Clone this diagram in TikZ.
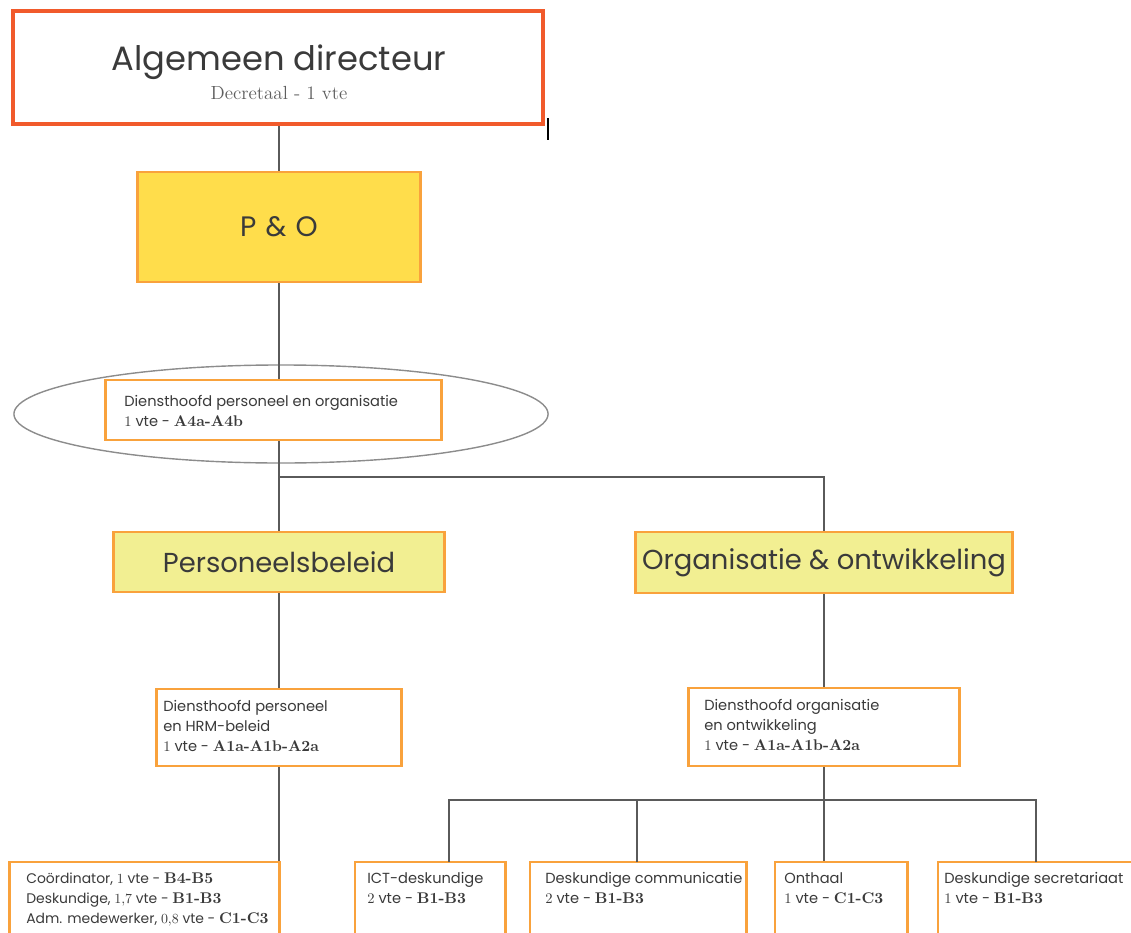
\documentclass[tikz,border=0pt]{standalone}
\usepackage{fontspec}
\setmainfont{Poppins}
\newfontfamily\gradefont{Latin Modern Roman}
\usetikzlibrary{positioning}

\definecolor{dirred}{HTML}{F15A2B}
\definecolor{boxorange}{HTML}{F9A23C}
\definecolor{poyellow}{HTML}{FFDD4B}
\definecolor{lightyellow}{HTML}{F2EF92}
\definecolor{linegray}{HTML}{5A5A5A}
\definecolor{ringgray}{HTML}{8C8C8C}
\definecolor{txtgray}{HTML}{3A3A3A}
\definecolor{subgray}{HTML}{5E5E5E}

\newcommand\nr[1]{{\gradefont #1}}
\newcommand\grade[1]{{\gradefont\bfseries\fontsize{11}{14.2}\selectfont #1}}

\tikzset{
  orgbox/.style={draw=boxorange, line width=2.1pt, fill=white, inner sep=0pt},
  dirbox/.style={orgbox, draw=dirred, line width=2.8pt},
  pobox/.style={orgbox, fill=poyellow, text=txtgray, font=\fontsize{20}{22}\selectfont},
  unitbox/.style={orgbox, fill=lightyellow, text=txtgray, font=\fontsize{19.5}{22}\selectfont},
  smalltxt/.style={anchor=north west, align=left, inner sep=0pt, text=txtgray,
    font=\fontsize{10.4}{14.2}\selectfont},
  connector/.style={draw=linegray, line width=1.6pt},
  ring/.style={draw=ringgray, line width=1pt}
}

\begin{document}
\begin{tikzpicture}[x=0.025cm, y=-0.025cm]
    \useasboundingbox (0,0) rectangle (1131,933);
    \clip (0,0) rectangle (1131,933);
    % top
    \node[dirbox, minimum width=13.25cm, minimum height=2.825cm] (dir) at (278,67.5) {};
    \node[text=txtgray, font=\fontsize{24}{26}\selectfont, inner sep=0pt] (dirName) at (279,62) {Algemeen directeur};
    \node[text=subgray, font=\gradefont\fontsize{13.5}{15}\selectfont, inner sep=0pt] (dirSub) at (279,93) {Decretaal - 1 vte};
    \draw[black, line width=0.8pt] (548,118) -- (548,140);
    \node[pobox, minimum width=7.05cm, minimum height=2.75cm] (po) at (279,227) {\addfontfeature{LetterSpace=6}P \& O};
    % highlighted head
    \draw[ring] (281,414) ellipse [x radius=6.675cm, y radius=1.225cm];
    \node[orgbox, minimum width=8.375cm, minimum height=1.5cm] (dpo) at (273.5,410) {};
    \node[smalltxt] (dpoTxt) at (124,395) {Diensthoofd personeel en organisatie\\ \nr{1} vte - \grade{A4a-A4b}};
    % units
    \node[unitbox, minimum width=8.25cm, minimum height=1.5cm] (pb) at (279,562) {Personeelsbeleid};
    \node[unitbox, minimum width=9.4cm, minimum height=1.525cm] (oo) at (824,562.5) {Organisatie \& ontwikkeling};
    \node[orgbox, minimum width=6.125cm, minimum height=1.925cm] (hrm) at (279,727.5) {};
    \node[smalltxt] (hrmTxt) at (163,700) {Diensthoofd personeel\\ en HRM-beleid\\ \nr{1} vte - \grade{A1a-A1b-A2a}};
    \node[orgbox, minimum width=6.775cm, minimum height=1.95cm] (doo) at (824,727) {};
    \node[smalltxt] (dooTxt) at (704,699) {Diensthoofd organisatie\\ en ontwikkeling\\ \nr{1} vte - \grade{A1a-A1b-A2a}};
    % bottom row
    \node[orgbox, minimum width=6.725cm, minimum height=2.45cm] (coord) at (144.5,911) {};
    \node[smalltxt, font=\fontsize{9.9}{14.2}\selectfont] (coordTxt) at (26,873) {Coördinator, \nr{1} vte - \grade{B4-B5}\\ Deskundige, \nr{1,7} vte - \grade{B1-B3}\\ Adm. medewerker, \nr{0,8} vte - \grade{C1-C3}};
    \node[orgbox, minimum width=3.75cm, minimum height=2.45cm] (ict) at (430,911) {};
    \node[smalltxt] (ictTxt) at (367,872) {ICT-deskundige\\ \nr{2} vte - \grade{B1-B3}};
    \node[orgbox, minimum width=5.4cm, minimum height=2.45cm] (comm) at (638,911) {};
    \node[smalltxt] (commTxt) at (545,872) {Deskundige communicatie\\ \nr{2} vte - \grade{B1-B3}};
    \node[orgbox, minimum width=3.3cm, minimum height=2.45cm] (ont) at (841,911) {};
    \node[smalltxt] (ontTxt) at (784,872) {Onthaal\\ \nr{1} vte - \grade{C1-C3}};
    \node[orgbox, minimum width=5.05cm, minimum height=2.45cm] (sec) at (1039,911) {};
    \node[smalltxt] (secTxt) at (944,872) {Deskundige secretariaat\\ \nr{1} vte - \grade{B1-B3}};
    % connectors
    \coordinate (split) at (279,477);
    \coordinate (bus) at (824,800);
    \coordinate (ictTop) at (449,862);
    \coordinate (commTop) at (637,862);
    \coordinate (secTop) at (1036,862);
    \draw[connector] (dir.south -| po.north) -- (po.north);
    \draw[connector] (po.south) -- (dpo.north -| po.south);
    \draw[connector] (dpo.south -| po.south) -- (pb.north);
    \draw[connector] (split) -| (oo.north);
    \draw[connector] (pb.south) -- (hrm.north);
    \draw[connector] (hrm.south) -- (hrm.south |- coord.north);
    \draw[connector] (oo.south) -- (doo.north);
    \draw[connector] (doo.south) -- (doo.south |- ont.north);
    \draw[connector] (ictTop) |- (bus) -| (secTop);
    \draw[connector] (commTop) -- (commTop |- bus);
\end{tikzpicture}
\end{document}
